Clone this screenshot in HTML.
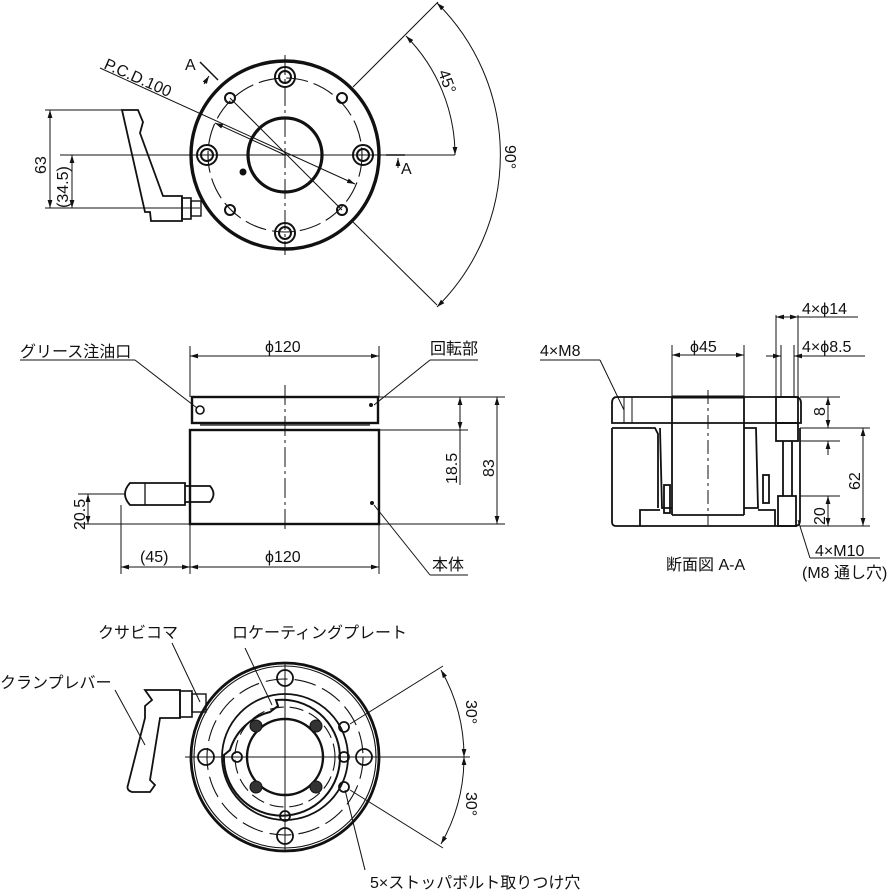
<!DOCTYPE html>
<html><head><meta charset="utf-8"><style>
html,body{margin:0;padding:0;background:#fff;}
svg{display:block;}
text{font-family:"Liberation Sans","Noto Sans CJK JP",sans-serif;fill:#111;}
</style></head><body>
<svg width="896" height="894" viewBox="0 0 896 894" xmlns="http://www.w3.org/2000/svg">
<defs>
<marker id="a" viewBox="0 0 10 10" refX="10" refY="5" markerWidth="8" markerHeight="8" orient="auto-start-reverse"><path d="M0,2 L10,5 L0,8 z" fill="#111"/></marker>
</defs>
<g stroke="#111" fill="none">
<!-- ===== TOP VIEW ===== -->
<circle cx="285" cy="155" r="94" stroke-width="3.4"/>
<circle cx="285" cy="155" r="37" stroke-width="3.2"/>
<circle cx="285" cy="155" r="77" stroke-width="1.1" stroke-dasharray="22 6"/>
<g stroke-width="2">
<circle cx="285" cy="77" r="10"/><circle cx="285" cy="77" r="6"/>
<circle cx="285" cy="233" r="10"/><circle cx="285" cy="233" r="6"/>
<circle cx="207" cy="155" r="10"/><circle cx="207" cy="155" r="6"/>
<circle cx="363" cy="155" r="10"/><circle cx="363" cy="155" r="6"/>
<circle cx="230" cy="98" r="5"/><circle cx="342" cy="98" r="5"/>
<circle cx="230" cy="210" r="5"/><circle cx="342" cy="210" r="5"/>
</g>
<circle cx="243" cy="172" r="3" fill="#111"/>
<g stroke-width="1">
<line x1="285" y1="55" x2="285" y2="255" stroke-dasharray="20 4 3 4"/>
<line x1="60" y1="155" x2="455" y2="155"/>
<line x1="45" y1="110" x2="122" y2="110"/>
<line x1="45" y1="208" x2="200" y2="208"/>
<line x1="50" y1="110" x2="50" y2="208" marker-start="url(#a)" marker-end="url(#a)"/>
<line x1="72" y1="155" x2="72" y2="208" marker-start="url(#a)" marker-end="url(#a)"/>
<line x1="100" y1="68" x2="355" y2="184" marker-end="url(#a)"/>
<line x1="285" y1="155" x2="215" y2="123" marker-end="url(#a)"/>
<line x1="230" y1="98" x2="342" y2="210"/>
<line x1="353" y1="87" x2="438" y2="2"/>
<line x1="353" y1="222" x2="437" y2="305"/>
<path d="M406,36 A170,170 0 0 1 455,155" marker-start="url(#a)" marker-end="url(#a)"/>
<path d="M437,3 A214,214 0 0 1 437,307" marker-start="url(#a)" marker-end="url(#a)"/>
<line x1="200" y1="62" x2="218" y2="80" stroke-width="1.5"/>
<line x1="204" y1="84" x2="209" y2="76" marker-end="url(#a)"/>
<line x1="386" y1="155" x2="405" y2="155" stroke-width="1.5"/>
<line x1="398" y1="168" x2="398" y2="158" marker-end="url(#a)"/>
</g>
<!-- lever top -->
<path d="M122,110 L138,110 L143,122 L140,133 L163,196 L182,196 L182,221 L151,221 L150,212 L145,212 Z" stroke-width="1.8"/>
<rect x="182" y="198" width="9" height="21" stroke-width="1.6"/>
<rect x="191" y="201" width="10" height="15" stroke-width="1.4"/>
<!-- ===== FRONT VIEW ===== -->
<rect x="192" y="397" width="186" height="26" stroke-width="2.4"/>
<line x1="200" y1="425" x2="370" y2="425" stroke-width="1.2"/>
<rect x="190" y="430" width="189" height="94" stroke-width="2.4"/>
<circle cx="200" cy="410" r="4" stroke-width="1.6"/>
<circle cx="371" cy="405" r="1.5" fill="#111"/>
<circle cx="372" cy="503" r="1.5" fill="#111"/>
<path d="M130,483 L185,483 L185,505 L130,505 Q120,494 130,483 Z" stroke-width="1.8"/>
<path d="M185,486 L210,486 Q217,494 210,502 L185,502" stroke-width="1.8"/>
<line x1="145" y1="483" x2="145" y2="505" stroke-width="1.3"/>
<g stroke-width="1">
<line x1="285" y1="385" x2="285" y2="532" stroke-dasharray="20 4 3 4"/>
<line x1="190" y1="346" x2="190" y2="397"/><line x1="379" y1="346" x2="379" y2="397"/>
<line x1="190" y1="356" x2="379" y2="356" marker-start="url(#a)" marker-end="url(#a)"/>
<line x1="190" y1="524" x2="190" y2="574"/><line x1="379" y1="524" x2="379" y2="574"/>
<line x1="121" y1="505" x2="121" y2="574"/>
<line x1="190" y1="567" x2="379" y2="567" marker-start="url(#a)" marker-end="url(#a)"/>
<line x1="121" y1="567" x2="190" y2="567" marker-start="url(#a)" marker-end="url(#a)"/>
<line x1="78" y1="494" x2="125" y2="494"/><line x1="78" y1="524" x2="190" y2="524"/>
<line x1="88" y1="494" x2="88" y2="524" marker-start="url(#a)" marker-end="url(#a)"/>
<line x1="379" y1="397" x2="505" y2="397"/><line x1="379" y1="430" x2="468" y2="430"/><line x1="379" y1="524" x2="505" y2="524"/>
<line x1="460" y1="397" x2="460" y2="430" marker-start="url(#a)" marker-end="url(#a)"/>
<line x1="460" y1="430" x2="460" y2="485"/>
<line x1="497" y1="397" x2="497" y2="524" marker-start="url(#a)" marker-end="url(#a)"/>
<line x1="20" y1="360" x2="135" y2="360"/><line x1="135" y1="360" x2="197" y2="408"/>
<line x1="430" y1="360" x2="478" y2="360"/><line x1="430" y1="360" x2="374" y2="405"/>
<line x1="430" y1="575" x2="468" y2="575"/><line x1="430" y1="575" x2="374" y2="505"/>
</g>
<!-- ===== SECTION A-A ===== -->
<g stroke-width="1.8">
<path d="M617,397 L795,397 Q801,397 801,403 L801,423 L612,423 L612,403 Q612,397 617,397 Z"/>
<path d="M612,428 L612,522 Q612,526 616,526 L795,526 Q800,526 800,520 L800,428"/>
<line x1="672" y1="397" x2="672" y2="515"/><line x1="744" y1="397" x2="744" y2="515"/>
<line x1="672" y1="397" x2="744" y2="397" stroke-width="3"/>
<path d="M612,428 L655,428 L658,434 L658,508"/>
<path d="M640,526 L640,510 L660,510"/>
<path d="M660,428 L662,508 L672,508"/>
<path d="M744,428 L756,428 L758,508 L744,508"/>
<path d="M672,515 L744,515"/>
<path d="M758,510 L775,510 L775,526"/>
<rect x="776" y="397" width="22" height="26"/>
<rect x="776" y="423" width="22" height="18"/>
<rect x="778" y="496" width="18" height="30"/>
<line x1="783" y1="441" x2="783" y2="496"/><line x1="792" y1="441" x2="792" y2="496"/>
<rect x="664" y="485" width="6" height="28"/>
<rect x="763" y="475" width="6" height="28"/>
<line x1="624" y1="397" x2="624" y2="423" stroke-width="1"/><line x1="632" y1="397" x2="632" y2="423" stroke-width="1"/>
</g>
<g stroke-width="1">
<line x1="708" y1="390" x2="708" y2="525" stroke-dasharray="14 4 3 4"/>
<line x1="672" y1="345" x2="672" y2="397"/><line x1="744" y1="345" x2="744" y2="397"/>
<line x1="672" y1="355" x2="744" y2="355" marker-start="url(#a)" marker-end="url(#a)"/>
<line x1="776" y1="315" x2="776" y2="397"/><line x1="798" y1="315" x2="798" y2="397"/>
<line x1="776" y1="317" x2="798" y2="317" marker-start="url(#a)" marker-end="url(#a)"/>
<line x1="798" y1="317" x2="858" y2="317"/>
<line x1="781" y1="345" x2="781" y2="397"/><line x1="794" y1="345" x2="794" y2="397"/>
<line x1="766" y1="356" x2="781" y2="356" marker-end="url(#a)"/>
<line x1="808" y1="356" x2="794" y2="356" marker-end="url(#a)"/>
<line x1="794" y1="356" x2="865" y2="356"/>
<line x1="800" y1="397" x2="840" y2="397"/><line x1="800" y1="428" x2="870" y2="428"/>
<line x1="800" y1="441" x2="840" y2="441"/><line x1="800" y1="496" x2="840" y2="496"/><line x1="800" y1="526" x2="870" y2="526"/>
<line x1="828" y1="397" x2="828" y2="428" marker-start="url(#a)" marker-end="url(#a)"/>
<line x1="828" y1="441" x2="828" y2="455" marker-start="url(#a)"/>
<line x1="863" y1="428" x2="863" y2="526" marker-start="url(#a)" marker-end="url(#a)"/>
<line x1="828" y1="496" x2="828" y2="526" marker-start="url(#a)" marker-end="url(#a)"/>
<line x1="540" y1="360" x2="600" y2="360"/><line x1="600" y1="360" x2="624" y2="410"/>
<line x1="810" y1="558" x2="880" y2="558"/><line x1="810" y1="558" x2="798" y2="520"/>
</g>
<!-- ===== BOTTOM VIEW ===== -->
<circle cx="285" cy="757" r="94" stroke-width="2.8"/>
<circle cx="285" cy="757" r="91" stroke-width="1.1"/>
<circle cx="285" cy="757" r="78" stroke-width="1.1" stroke-dasharray="22 7"/>
<circle cx="285" cy="757" r="38" stroke-width="2.4"/>
<circle cx="285" cy="757" r="50" stroke-width="1.1" stroke-dasharray="14 6"/>
<path d="M276,700 A58,58 0 1 1 224,755 L230,750 A56,56 0 0 1 270,712 L278,706 Z" stroke-width="2"/>
<circle cx="285" cy="757" r="63" stroke-width="1.8"/>
<g stroke-width="1.8">
<circle cx="285" cy="678" r="8"/><circle cx="285" cy="836" r="8"/>
<circle cx="206" cy="757" r="8"/><circle cx="364" cy="757" r="8"/>
<circle cx="237" cy="757" r="5"/><circle cx="344" cy="757" r="5"/><circle cx="344" cy="727" r="5"/><circle cx="344" cy="787" r="5"/><circle cx="285" cy="816" r="5"/>
</g>
<g fill="#333" stroke-width="1">
<circle cx="256" cy="726" r="6"/><circle cx="316" cy="726" r="6"/><circle cx="256" cy="787" r="6"/><circle cx="316" cy="787" r="6"/>
</g>
<path d="M145,690 L180,690 L180,718 L160,718 L150,780 L155,785 L150,792 L132,792 Q126,790 128,785 L145,718 L145,706 L152,700 Z" stroke-width="1.8"/>
<rect x="180" y="691" width="12" height="26" stroke-width="1.6"/>
<rect x="192" y="694" width="14" height="18" stroke-width="1.4"/>
<g stroke-width="1">
<line x1="285" y1="662" x2="285" y2="852"/>
<line x1="185" y1="757" x2="470" y2="757"/>
<line x1="350" y1="724" x2="443" y2="666"/>
<line x1="350" y1="790" x2="443" y2="848"/>
<path d="M441,670 A175,175 0 0 1 464,757" marker-start="url(#a)" marker-end="url(#a)"/>
<path d="M464,757 A175,175 0 0 1 441,844" marker-start="url(#a)" marker-end="url(#a)"/>
<line x1="172" y1="643" x2="200" y2="702"/>
<line x1="245" y1="648" x2="272" y2="705"/>
<line x1="115" y1="690" x2="145" y2="745"/>
<line x1="345" y1="790" x2="365" y2="870"/>
</g>
</g>
<!-- TEXT -->
<g font-size="16">
<text x="103" y="68" transform="rotate(24 103 68)">P.C.D.100</text>
<text x="185" y="70">A</text>
<text x="401" y="174">A</text>
<text x="46" y="174" transform="rotate(-90 46 174)">63</text>
<text x="68" y="208" transform="rotate(-90 68 208)">(34.5)</text>
<text x="438" y="72" transform="rotate(70 438 72)">45°</text>
<text x="505" y="145" transform="rotate(90 505 145)">90°</text>
<text x="265" y="352">ϕ120</text>
<text x="265" y="562">ϕ120</text>
<text x="140" y="562">(45)</text>
<text x="430" y="354">回転部</text>
<text x="20" y="357">グリース注油口</text>
<text x="432" y="570">本体</text>
<text x="85" y="530" transform="rotate(-90 85 530)">20.5</text>
<text x="457" y="484" transform="rotate(-90 457 484)">18.5</text>
<text x="494" y="477" transform="rotate(-90 494 477)">83</text>
<text x="540" y="356">4×M8</text>
<text x="690" y="352">ϕ45</text>
<text x="802" y="314">4×ϕ14</text>
<text x="802" y="352">4×ϕ8.5</text>
<text x="825" y="416" transform="rotate(-90 825 416)">8</text>
<text x="860" y="490" transform="rotate(-90 860 490)">62</text>
<text x="825" y="525" transform="rotate(-90 825 525)">20</text>
<text x="815" y="556">4×M10</text>
<text x="802" y="578">(M8 通し穴)</text>
<text x="666" y="570">断面図 A-A</text>
<text x="98" y="638">クサビコマ</text>
<text x="232" y="638">ロケーティングプレート</text>
<text x="0" y="688">クランプレバー</text>
<text x="466" y="700" transform="rotate(90 466 700)">30°</text>
<text x="466" y="792" transform="rotate(90 466 792)">30°</text>
<text x="370" y="888">5×ストッパボルト取りつけ穴</text>
</g>
</svg>
</body></html>
